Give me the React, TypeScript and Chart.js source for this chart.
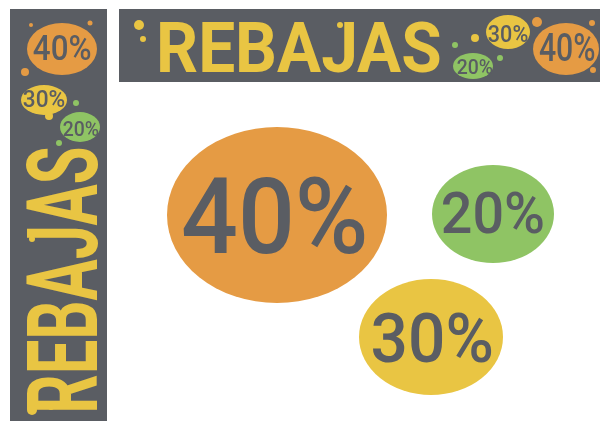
import React, { useEffect, useRef } from "react";
import { Chart, registerables } from "chart.js";

Chart.register(...registerables);

// Banners (in scale units, x: 0..600, y: 0..421 top-down)
const BANNER_X = [10, 119];
const BANNER_Y = [9, 9];
const BANNER_W = [97, 481];
const BANNER_H = [412, 73];

// Discount ellipses
const ELL_LABEL = ["40%", "20%", "30%", "40%", "30%", "20%", "20%", "30%", "40%"];
const ELL_X = [277, 493, 431, 62, 44, 80, 473, 508, 566];
const ELL_Y = [215, 214, 337, 49, 100, 127, 66, 32, 49];
const ELL_RX = [110, 61, 72, 35, 23, 20, 20, 22, 33];
const ELL_RY = [88, 49, 58, 26, 15, 15, 13, 17, 26];
const ELL_COLOR = ["orange", "green", "yellow", "orange", "yellow", "green", "green", "yellow", "orange"];
const TXT_X = [274, 493, 432, 62, 44, 81, 475, 508, 567];
const TXT_Y = [214, 212, 337, 47, 98, 128, 66, 33, 47];
const TXT_W = [182, 100, 119, 57, 41, 35, 35, 39, 55];
const TXT_H = [77, 42, 50, 25, 17, 15, 15, 17, 28];

// "REBAJAS" titles
const TITLE_TEXT = ["REBAJAS", "REBAJAS"];
const TITLE_X = [61, 300];
const TITLE_Y = [279, 46];
const TITLE_LEN = [262, 280];
const TITLE_CAP = [72, 52];
const TITLE_VERTICAL = [true, false];

// Decorative dots
const DOT_ORANGE = [
  { x: 31, y: 25, r: 2 },
  { x: 90, y: 23, r: 2.5 },
  { x: 25, y: 72, r: 4 },
  { x: 537, y: 22, r: 5 },
  { x: 592, y: 23, r: 3 },
  { x: 593, y: 70, r: 3 },
];
const DOT_YELLOW = [
  { x: 49, y: 116, r: 4 },
  { x: 32, y: 410, r: 5 },
  { x: 51, y: 407, r: 3 },
  { x: 32, y: 239, r: 3 },
  { x: 139, y: 25, r: 5 },
  { x: 143, y: 39, r: 3 },
  { x: 340, y: 25, r: 3 },
  { x: 475, y: 38, r: 4 },
];
const DOT_GREEN = [
  { x: 76, y: 103, r: 3 },
  { x: 59, y: 143, r: 3 },
  { x: 455, y: 45, r: 3 },
  { x: 500, y: 58, r: 3 },
];

const COLORS: Record<string, string> = {
  orange: "#e59b44",
  yellow: "#e9c543",
  green: "#8fc464",
  gray: "#5a5d63",
};

function fitText(
  ctx: CanvasRenderingContext2D,
  text: string,
  cx: number,
  cy: number,
  w: number,
  h: number,
  rot: number,
  color: string,
  weight: string
) {
  ctx.save();
  ctx.font = `${weight} 100px Roboto, "Liberation Sans", sans-serif`;
  ctx.textAlign = "left";
  ctx.textBaseline = "alphabetic";
  const m = ctx.measureText(text);
  const tw = m.actualBoundingBoxLeft + m.actualBoundingBoxRight;
  const th = m.actualBoundingBoxAscent;
  ctx.translate(cx, cy);
  ctx.rotate(rot);
  ctx.scale(w / tw, h / th);
  ctx.fillStyle = color;
  ctx.fillText(text, -tw / 2 + m.actualBoundingBoxLeft, th / 2);
  ctx.restore();
}

const artPlugin = {
  id: "art",
  beforeDatasetsDraw(chart: any) {
    const ctx: CanvasRenderingContext2D = chart.ctx;
    const xs = chart.scales.x;
    const ys = chart.scales.y;
    const px = (v: number) => xs.getPixelForValue(v);
    const py = (v: number) => ys.getPixelForValue(v);
    ctx.save();
    // banners
    for (let i = 0; i < BANNER_X.length; i++) {
      const x0 = px(BANNER_X[i]);
      const x1 = px(BANNER_X[i] + BANNER_W[i]);
      const y0 = py(BANNER_Y[i]);
      const y1 = py(BANNER_Y[i] + BANNER_H[i]);
      ctx.fillStyle = COLORS.gray;
      ctx.fillRect(Math.min(x0, x1), Math.min(y0, y1), Math.abs(x1 - x0), Math.abs(y1 - y0));
    }
    // titles
    for (let i = 0; i < TITLE_TEXT.length; i++) {
      const len = Math.abs(px(TITLE_X[i] + TITLE_LEN[i]) - px(TITLE_X[i]));
      const cap = Math.abs(py(TITLE_Y[i] + TITLE_CAP[i]) - py(TITLE_Y[i]));
      fitText(
        ctx,
        TITLE_TEXT[i],
        px(TITLE_X[i]),
        py(TITLE_Y[i]),
        len,
        cap,
        TITLE_VERTICAL[i] ? -Math.PI / 2 : 0,
        COLORS.yellow,
        "bold"
      );
    }
    // ellipses
    for (let i = 0; i < ELL_X.length; i++) {
      const cx = px(ELL_X[i]);
      const cy = py(ELL_Y[i]);
      const rx = Math.abs(px(ELL_X[i] + ELL_RX[i]) - cx);
      const ry = Math.abs(py(ELL_Y[i] + ELL_RY[i]) - cy);
      ctx.beginPath();
      ctx.ellipse(cx, cy, rx, ry, 0, 0, Math.PI * 2);
      ctx.fillStyle = COLORS[ELL_COLOR[i]];
      ctx.fill();
      const tw = Math.abs(px(TXT_X[i] + TXT_W[i]) - px(TXT_X[i]));
      const th = Math.abs(py(TXT_Y[i] + TXT_H[i]) - py(TXT_Y[i]));
      fitText(ctx, ELL_LABEL[i], px(TXT_X[i]), py(TXT_Y[i]), tw, th, 0, COLORS.gray, "500");
    }
    ctx.restore();
  },
};

export default function App() {
  const ref = useRef<HTMLCanvasElement>(null);
  useEffect(() => {
    document.body.style.margin = "0";
    document.body.style.background = "#ffffff";
    if (!ref.current) return;
    const chart = new Chart(ref.current, {
      type: "bubble",
      data: {
        datasets: [
          { label: "orange", data: DOT_ORANGE, backgroundColor: COLORS.orange, borderWidth: 0 },
          { label: "yellow", data: DOT_YELLOW, backgroundColor: COLORS.yellow, borderWidth: 0 },
          { label: "green", data: DOT_GREEN, backgroundColor: COLORS.green, borderWidth: 0 },
        ],
      },
      options: {
        animation: false,
        responsive: false,
        layout: { padding: 0, autoPadding: false },
        scales: {
          x: { type: "linear", min: 0, max: 600, display: false },
          y: { type: "linear", min: 0, max: 421, reverse: true, display: false },
        },
        plugins: {
          legend: { display: false },
          tooltip: { enabled: false },
          title: { display: false },
        },
        elements: { point: { hoverRadius: 0 } },
      },
      plugins: [artPlugin],
    } as any);
    return () => chart.destroy();
  }, []);
  return (
    <div style={{ width: 600, height: 421, background: "#ffffff" }}>
      <canvas ref={ref} width={600} height={421} style={{ display: "block" }} />
    </div>
  );
}
